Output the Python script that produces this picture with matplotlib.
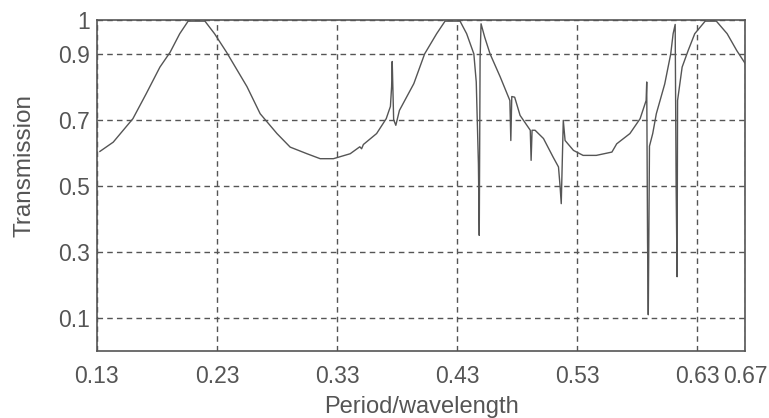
import matplotlib.pyplot as plt

# transmission curve
period = [0.1325, 0.1436, 0.160, 0.171, 0.1825, 0.191, 0.199, 0.206, 0.22, 0.228, 0.238,
          0.255, 0.266, 0.28, 0.291, 0.305, 0.316, 0.327, 0.341, 0.349, 0.3505, 0.352,
          0.363, 0.371, 0.3745, 0.3755, 0.376, 0.3772, 0.379, 0.382, 0.394, 0.403, 0.413,
          0.42, 0.4325, 0.438, 0.444, 0.446, 0.4478, 0.4485, 0.4492, 0.4500, 0.453,
          0.4575, 0.466, 0.474, 0.4748, 0.4756, 0.478, 0.4825, 0.491, 0.4917, 0.4925,
          0.495, 0.502, 0.51, 0.5145, 0.5158, 0.5168, 0.5185, 0.52, 0.527, 0.535, 0.546,
          0.559, 0.563, 0.574, 0.5825, 0.5875, 0.588, 0.5887, 0.5893, 0.5903, 0.593,
          0.596, 0.603, 0.608, 0.610, 0.6117, 0.6125, 0.6133, 0.6137, 0.6175, 0.6225,
          0.628, 0.6367, 0.646, 0.655, 0.663, 0.67]
trans = [0.604, 0.632, 0.703, 0.778, 0.859, 0.904, 0.96, 0.998, 0.998, 0.96, 0.904,
         0.80, 0.718, 0.658, 0.617, 0.597, 0.582, 0.582, 0.597, 0.618, 0.612, 0.625,
         0.658, 0.703, 0.74, 0.80, 0.876, 0.70, 0.683, 0.728, 0.809, 0.899, 0.96,
         0.998, 0.998, 0.96, 0.899, 0.814, 0.567, 0.35, 0.884, 0.99, 0.95,
         0.899, 0.829, 0.758, 0.637, 0.77, 0.768, 0.713, 0.668, 0.577, 0.668,
         0.668, 0.643, 0.587, 0.557, 0.50, 0.446, 0.698, 0.637, 0.607, 0.592, 0.592,
         0.602, 0.627, 0.658, 0.703, 0.758, 0.814, 0.33, 0.11, 0.62, 0.658,
         0.718, 0.808, 0.899, 0.96, 0.988, 0.50, 0.225, 0.758, 0.859, 0.909,
         0.96, 0.998, 0.998, 0.96, 0.909, 0.87]

xticks = [0.13, 0.23, 0.33, 0.43, 0.53, 0.63, 0.67]
yticks = [0.1, 0.3, 0.5, 0.7, 0.9, 1]
yticklabels = ['0.1', '0.3', '0.5', '0.7', '0.9', '1']

plt.rcParams['font.family'] = ['Liberation Sans', 'DejaVu Sans']
grey = '#555555'
txt = '#555555'
fig = plt.figure(figsize=(7.69, 4.18), dpi=100)
ax = fig.add_axes([0.126, 0.160, 0.843, 0.791])
ax.plot(period, trans, color=grey, lw=1.0)
ax.set_xlim(0.13, 0.67)
ax.set_ylim(0, 1)
ax.set_xticks(xticks)
ax.set_xticklabels([str(t) for t in xticks])
ax.set_yticks(yticks)
ax.set_yticklabels(yticklabels)
ax.grid(True, ls=(0, (4, 3)), color=grey, lw=1.0)
ax.tick_params(axis='x', length=0, labelsize=16.5, colors=txt, pad=10)
ax.tick_params(axis='y', length=0, labelsize=16.5, colors=txt, pad=5)
for s in ax.spines.values():
    s.set_color(grey)
    s.set_linewidth(1.2)
ax.set_xlabel('Period/wavelength', fontsize=17, color=txt, labelpad=6)
ax.set_ylabel('Transmission', fontsize=17.5, color=txt, labelpad=14)
ax.yaxis.set_label_coords(-0.095, 0.56)
fig.savefig('out.png', dpi=100)
